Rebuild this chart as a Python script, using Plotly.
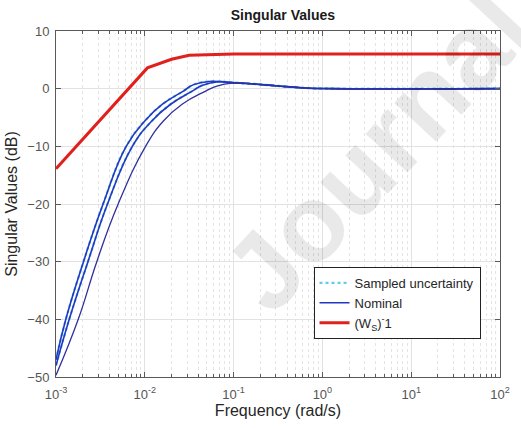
import plotly.graph_objects as go

# Frequency grids (rad/s) and singular values (dB)
sv1_w  = [0.001, 0.00129, 0.00204, 0.00339, 0.00617, 0.0100, 0.0158, 0.0269,
          0.0355, 0.0525, 0.0955, 0.158, 0.302, 0.631, 1.26, 100.0]
sv1_db = [-47.0, -40.0, -30.0, -20.0, -10.0, -5.6, -2.7, -0.46,
          0.7, 1.25, 1.05, 0.85, 0.5, 0.12, 0.0, 0.0]

sv2_w  = [0.001, 0.00141, 0.00229, 0.0038, 0.00724, 0.0120, 0.0195, 0.0339,
          0.0447, 0.0676, 0.0955, 0.158, 0.302, 0.631, 1.26, 100.0]
sv2_db = [-48.0, -40.0, -30.0, -20.0, -10.0, -5.6, -2.7, -0.46,
          0.6, 1.2, 1.05, 0.85, 0.5, 0.12, 0.0, 0.0]

sv3_w  = [0.001, 0.00178, 0.00288, 0.00501, 0.0102, 0.0162, 0.0263, 0.0479,
          0.0661, 0.0955, 0.158, 0.302, 0.631, 1.26, 100.0]
sv3_db = [-49.7, -40.0, -30.0, -20.0, -10.0, -5.6, -2.7, -0.46,
          0.5, 0.95, 0.85, 0.5, 0.12, 0.0, 0.0]

ws_inv_w  = [0.001, 0.0107, 0.02, 0.0316, 0.1, 100.0]
ws_inv_db = [-13.9, 3.6, 5.1, 5.8, 6.0, 6.0]

x_tick_vals = [1e-3, 1e-2, 1e-1, 1e0, 1e1, 1e2]
x_tick_text = ["10<sup>-3</sup>", "10<sup>-2</sup>", "10<sup>-1</sup>",
               "10<sup>0</sup>", "10<sup>1</sup>", "10<sup>2</sup>"]
y_tick_vals = [-50, -40, -30, -20, -10, 0, 10]

# 2..9 within each decade for the minor grid
x_minor_vals = [m * 10.0 ** e for e in range(-3, 2) for m in range(2, 10)]

FONT = "Liberation Sans, Arial, Helvetica, sans-serif"
SAMPLE_COLOR = "#5fcde6"
NOMINAL_COLOR = "#2238c2"
SMOOTH = 1.3

fig = go.Figure()

# sampled-uncertainty responses (dotted, underneath the nominal curves)
for i, (w, db) in enumerate([(sv1_w, sv1_db), (sv2_w, sv2_db)]):
    fig.add_trace(go.Scatter(
        x=w, y=db, mode="lines", name="Sampled uncertainty",
        legendgroup="samples", showlegend=(i == 0),
        line=dict(color=SAMPLE_COLOR, width=2.2, dash="dot", shape="spline", smoothing=SMOOTH),
    ))

# nominal singular values
for i, (w, db, col, lw) in enumerate([(sv1_w, sv1_db, NOMINAL_COLOR, 1.6),
                                      (sv2_w, sv2_db, NOMINAL_COLOR, 1.6),
                                      (sv3_w, sv3_db, "#30309c", 1.3)]):
    fig.add_trace(go.Scatter(
        x=w, y=db, mode="lines", name="Nominal",
        legendgroup="nominal", showlegend=(i == 0),
        line=dict(color=col, width=lw, shape="spline", smoothing=SMOOTH),
    ))

# inverse performance weight
fig.add_trace(go.Scatter(
    x=ws_inv_w, y=ws_inv_db, mode="lines",
    name="(W<sub>S</sub>)<sup>-</sup>1",
    line=dict(color="#e0201c", width=3),
))

axis_common = dict(
    showline=True, linecolor="#5a5a5a", linewidth=1, mirror="ticks",
    ticks="inside", ticklen=5, tickcolor="#5a5a5a",
    showgrid=True, gridcolor="#e2e2e2", gridwidth=1,
    zeroline=False,
    tickfont=dict(family=FONT, size=13, color="#555555"),
)

fig.update_xaxes(
    type="log", range=[-3, 2],
    tickvals=x_tick_vals, ticktext=x_tick_text,
    minor=dict(tickmode="array", tickvals=x_minor_vals,
               ticks="inside", ticklen=3, tickcolor="#5a5a5a",
               showgrid=True, gridcolor="#e4e4e4", griddash="dot"),
    ticklabelstandoff=5,
    title=dict(text="Frequency (rad/s)", standoff=4,
               font=dict(family=FONT, size=16, color="#262626")),
    **axis_common,
)
fig.update_yaxes(
    range=[-50, 10], tickvals=y_tick_vals,
    ticklabelstandoff=3,
    title=dict(text="Singular Values (dB)", standoff=5,
               font=dict(family=FONT, size=16, color="#262626")),
    **axis_common,
)

fig.update_layout(
    width=521, height=428,
    margin=dict(l=56, r=11, t=31, b=50),
    paper_bgcolor="white", plot_bgcolor="white",
    title=dict(text="<b>Singular Values</b>", x=0.543, xanchor="center",
               y=1 - 15 / 428, yanchor="middle",
               font=dict(family=FONT, size=14, color="#1a1a1a")),
    legend=dict(x=0.58, y=0.318, xanchor="left", yanchor="top",
                bgcolor="white", bordercolor="#222222", borderwidth=1,
                font=dict(family=FONT, size=13, color="#262626"),
                tracegroupgap=0, itemwidth=30),
    showlegend=True,
    annotations=[dict(
        text="<b>Journal</b>", xref="paper", yref="paper", x=0.722, y=0.655,
        xanchor="center", yanchor="middle", showarrow=False, textangle=-47,
        font=dict(family=FONT, size=108, color="rgba(0,0,0,0.085)"),
    )],
)

fig.write_html("out.html")
